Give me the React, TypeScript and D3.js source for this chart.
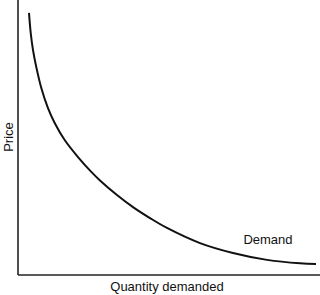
import React from "react";
import * as d3 from "d3";

const quantity = [3.64, 4.21, 4.97, 6.06, 7.72, 9.93, 12.15, 15.46, 19.87, 24.27, 27.15, 32.78, 38.08, 43.71, 49.34, 60.26, 71.19, 82.45, 93.38, 98.68];
const price = [95.3, 88.0, 81.8, 75.6, 68.0, 60.7, 55.3, 49.1, 42.9, 37.5, 34.4, 29.1, 24.7, 20.7, 17.1, 11.6, 8.0, 5.5, 4.25, 4.0];
const xTitle = "Quantity demanded";
const yTitle = "Price";
const seriesLabel = "Demand";

const W = 320;
const H = 295;
const left = 18;
const bottom = 275;

export default function App() {
  const x = d3.scaleLinear().domain([0, 100]).range([left, 320]);
  const y = d3.scaleLinear().domain([0, 100]).range([bottom, 0]);
  const pts: [number, number][] = quantity.map((q, i) => [q, price[i]]);
  const line = d3
    .line<[number, number]>()
    .x((d) => x(d[0]))
    .y((d) => y(d[1]))
    .curve(d3.curveCatmullRom.alpha(0.5));
  const font = "Helvetica, Arial, 'Liberation Sans', sans-serif";
  return (
    <svg
      width={W}
      height={H}
      style={{ position: "absolute", left: 0, top: 0, display: "block" }}
      fontFamily={font}
    >
      <rect width={W} height={H} fill="#fff" />
      <line x1={left} y1={0} x2={left} y2={bottom} stroke="#222" strokeWidth={1.6} />
      <line x1={left} y1={bottom} x2={320} y2={bottom} stroke="#222" strokeWidth={1.6} />
      <path d={line(pts) || ""} fill="none" stroke="#111" strokeWidth={2} />
      <text x={268} y={244} fontSize={13} fill="#111" textAnchor="middle">
        {seriesLabel}
      </text>
      <text x={167} y={291} fontSize={13} fill="#111" textAnchor="middle">
        {xTitle}
      </text>
      <text
        transform={`translate(13,137) rotate(-90)`}
        fontSize={13}
        fill="#111"
        textAnchor="middle"
      >
        {yTitle}
      </text>
    </svg>
  );
}
